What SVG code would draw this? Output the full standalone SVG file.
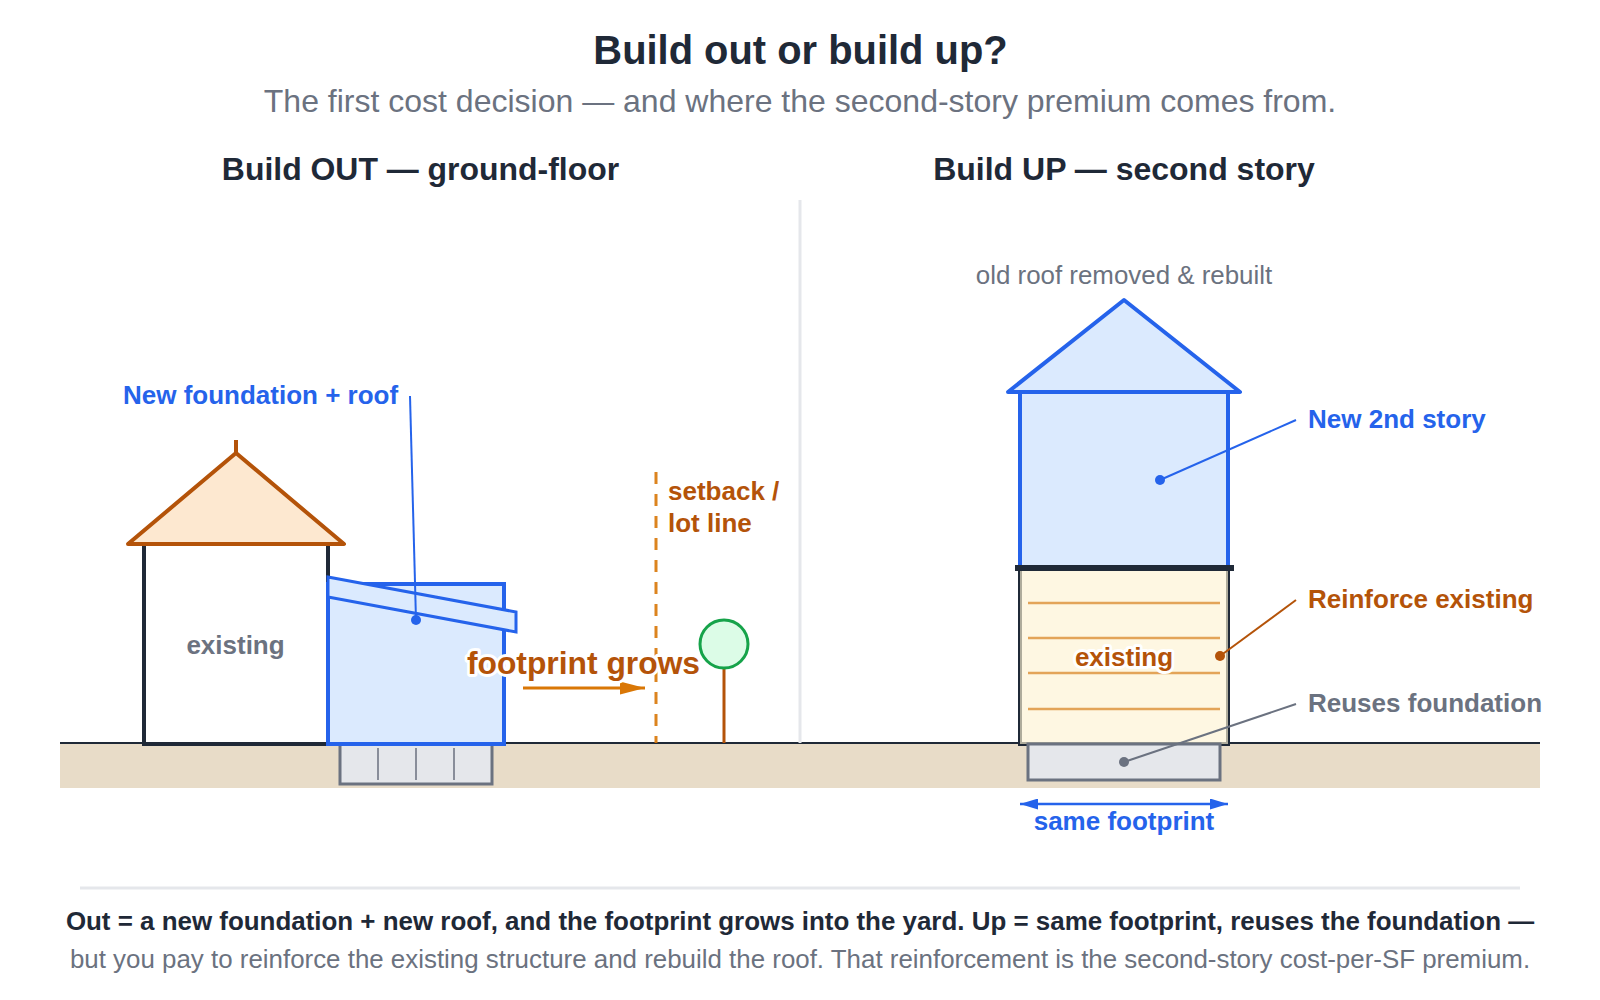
<svg xmlns="http://www.w3.org/2000/svg" width="1600" height="1000" viewBox="0 0 1600 1000">
  <style>
    text { font-family: "Liberation Sans", Arial, sans-serif; }
    .b { font-weight: 700; }
    .m { text-anchor: middle; }
    .ink { fill: #1f2937; }
    .grey { fill: #6b7280; }
    .blue { fill: #2563eb; }
    .rust { fill: #b45309; }
    .halo { paint-order: stroke; stroke: #fff; stroke-width: 6px; stroke-linejoin: round; }
    .lbl { font-size: 26px; }
    .wall { fill: none; stroke: #1f2937; stroke-width: 4; }
    .new { fill: #dbeafe; stroke: #2563eb; stroke-width: 4; stroke-linejoin: miter; }
    .found { fill: #e5e7eb; stroke: #6b7280; stroke-width: 3; }
    .leader { fill: none; stroke-width: 2; }
    .course { stroke: #e3a458; stroke-width: 2.5; }
  </style>
  <defs>
    <marker id="ah-orange" viewBox="0 0 25 13" refX="25" refY="6.5" markerWidth="25" markerHeight="13" markerUnits="userSpaceOnUse" orient="auto-start-reverse">
      <path d="M0 0L25 6.5L0 13Z" fill="#d97706"/>
    </marker>
    <marker id="ah-blue" viewBox="0 0 18 11" refX="18" refY="5.5" markerWidth="18" markerHeight="11" markerUnits="userSpaceOnUse" orient="auto-start-reverse">
      <path d="M0 0L18 5.5L0 11Z" fill="#2563eb"/>
    </marker>
  </defs>
  <rect width="1600" height="1000" fill="#fff"/>

  <text class="b m ink" x="800.5" y="64" font-size="39.9">Build out or build up?</text>
  <text class="m grey" x="800" y="112" font-size="32">The first cost decision — and where the second-story premium comes from.</text>
  <text class="b m ink" x="420.5" y="180" font-size="31.95">Build OUT — ground-floor</text>
  <text class="b m ink" x="1124" y="180" font-size="32">Build UP — second story</text>

  <g id="ground">
    <rect x="60" y="743" width="1480" height="45" fill="#e8dcc8"/>
    <line x1="60" y1="743" x2="1540" y2="743" stroke="#1f2937" stroke-width="2"/>
  </g>
  <line id="divider" x1="800" y1="200" x2="800" y2="743" stroke="#e5e7eb" stroke-width="3"/>

  <g id="existing-house">
    <path class="wall" d="M144 544V744H328V544"/>
    <path d="M128 544L236 453L344 544Z" fill="#fde8d0" stroke="#b45309" stroke-width="4" stroke-linejoin="round"/>
    <line x1="236" y1="440" x2="236" y2="453" stroke="#b45309" stroke-width="4"/>
    <text class="b m grey" x="235.5" y="654" font-size="26">existing</text>
  </g>

  <g id="addition">
    <rect class="found" x="340" y="744" width="152" height="40"/>
    <path d="M378 748V780M416 748V780M454 748V780" stroke="#6b7280" stroke-width="1.5" fill="none"/>
    <rect class="new" x="328" y="584" width="176" height="160"/>
    <path d="M328 577L516 612V632L328 597Z" class="new" style="stroke-width:3"/>
  </g>

  <g id="setback">
    <line x1="656" y1="472" x2="656" y2="743" stroke="#d97706" stroke-width="3" stroke-dasharray="12 10" opacity="0.9"/>
    <text class="b rust" x="668" y="500" font-size="26">setback /</text>
    <text class="b rust" x="668" y="532" font-size="26">lot line</text>
  </g>

  <g id="tree">
    <line x1="724" y1="668" x2="724" y2="743" stroke="#b45309" stroke-width="3"/>
    <circle cx="724" cy="644" r="24" fill="#dcfce7" stroke="#16a34a" stroke-width="3"/>
  </g>

  <g id="second-story-house">
    <rect x="1020" y="568" width="208" height="176" fill="#fff" stroke="#1f2937" stroke-width="4"/>
    <rect x="1020" y="568" width="208" height="176" fill="#fef3d2" opacity="0.65"/>
    <path class="course" d="M1028 603H1220M1028 638H1220M1028 673H1220M1028 709H1220"/>
    <rect class="found" x="1028" y="744" width="192" height="36"/>
    <rect class="new" x="1020" y="392" width="208" height="176"/>
    <path class="new" d="M1008 392L1124 300L1240 392Z" style="stroke-linejoin:round"/>
    <line x1="1015" y1="568" x2="1234" y2="568" stroke="#1f2937" stroke-width="6"/>
    <text class="b m rust halo" x="1124" y="666" font-size="26">existing</text>
  </g>

  <g id="connectors">
    <line class="leader" x1="410" y1="396" x2="416" y2="620" stroke="#2563eb"/>
    <circle cx="416" cy="620" r="5" fill="#2563eb"/>
    <line class="leader" x1="1160" y1="480" x2="1296" y2="420" stroke="#2563eb"/>
    <circle cx="1160" cy="480" r="5" fill="#2563eb"/>
    <line class="leader" x1="1220" y1="656" x2="1296" y2="600" stroke="#b45309"/>
    <circle cx="1220" cy="656" r="5" fill="#b45309"/>
    <line class="leader" x1="1124" y1="762" x2="1296" y2="704" stroke="#6b7280"/>
    <circle cx="1124" cy="762" r="5" fill="#6b7280"/>
    <line x1="523" y1="688" x2="645" y2="688" stroke="#d97706" stroke-width="3" marker-end="url(#ah-orange)"/>
    <line x1="1020" y1="804" x2="1228" y2="804" stroke="#2563eb" stroke-width="2.5" marker-start="url(#ah-blue)" marker-end="url(#ah-blue)"/>
  </g>

  <g id="labels">
    <text class="b blue lbl" x="123" y="404">New foundation + roof</text>
    <text class="b m rust halo" x="583.5" y="674" font-size="31.8">footprint grows</text>
    <text class="m grey" x="1124" y="284" font-size="25.9">old roof removed &amp; rebuilt</text>
    <text class="b blue lbl" x="1308" y="428">New 2nd story</text>
    <text class="b rust lbl" x="1308" y="608">Reinforce existing</text>
    <text class="b grey lbl" x="1308" y="712">Reuses foundation</text>
    <text class="b m blue halo" x="1124" y="830" font-size="26">same footprint</text>
  </g>

  <g id="summary">
    <line x1="80" y1="888" x2="1520" y2="888" stroke="#e5e7eb" stroke-width="3"/>
    <text class="b m ink" x="800" y="930" font-size="25.93">Out = a new foundation + new roof, and the footprint grows into the yard. Up = same footprint, reuses the foundation —</text>
    <text class="m grey" x="800" y="968" font-size="25.9">but you pay to reinforce the existing structure and rebuild the roof. That reinforcement is the second-story cost-per-SF premium.</text>
  </g>
</svg>
